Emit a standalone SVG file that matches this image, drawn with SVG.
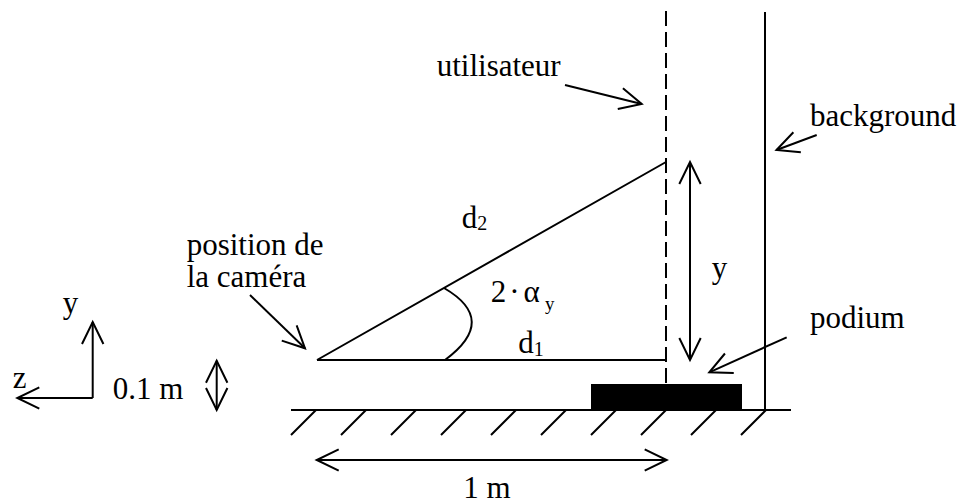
<svg xmlns="http://www.w3.org/2000/svg" width="963" height="502" viewBox="0 0 963 502">
<style>
text{font-family:"Liberation Serif","Times New Roman",serif;font-size:31px;fill:#000}
.ln{stroke:#000;stroke-width:2;fill:none}
.sub{font-size:19px}
</style>
<defs>
<marker id="ah" markerUnits="userSpaceOnUse" orient="auto-start-reverse" refX="0" refY="0" markerWidth="30" markerHeight="30" overflow="visible">
<path d="M-22,-10.7 L0,0 L-22,10.7" fill="none" stroke="#000" stroke-width="2"/>
</marker>
</defs>
<rect width="963" height="502" fill="#fff"/>

<g id="ground">
<line class="ln" x1="291" y1="410" x2="791" y2="410"/>
<path class="ln" d="M316,410 l-25,25 M366,410 l-25,25 M416,410 l-25,25 M466,410 l-25,25 M516,410 l-25,25 M566,410 l-25,25 M616,410 l-25,25 M666,410 l-25,25 M716,410 l-25,25 M766,410 l-25,25"/>
</g>
<g id="podium">
<rect x="591" y="384" width="151" height="26" fill="#000"/>
<text x="810" y="328">podium</text>
</g>
<g id="utilisateur">
<line class="ln" x1="666" y1="11" x2="666" y2="384" stroke-dasharray="15,6"/>
<text x="436.7" y="76">utilisateur</text>
</g>
<g id="background">
<line class="ln" x1="765" y1="12" x2="765" y2="410"/>
<text x="810" y="126">background</text>
</g>
<g id="camera">
<text x="186.7" y="255">position de</text>
<text x="186.7" y="286.7">la caméra</text>
</g>
<g id="triangle">
<path class="ln" d="M317,360 L666,360 M317,360 L666,162"/>
<path class="ln" d="M444,288 Q499,320 445,360"/>
<text x="461.7" y="228">d<tspan dy="2" font-size="20">2</tspan></text>
<text x="518.3" y="353">d<tspan dy="3" font-size="20">1</tspan></text>
<text x="490.7" y="301.7">2</text>
<text x="514.5" y="301.7" text-anchor="middle">·</text>
<text x="523.5" y="301.7">α</text>
<text class="sub" x="545" y="310">y</text>
<text x="711.7" y="278">y</text>
</g>
<g id="axes">
<text x="62.7" y="313">y</text>
<text x="12.7" y="388">z</text>
<text x="112.7" y="399">0.1 m</text>
<text x="463.3" y="497.5">1 m</text>
</g>
<g id="connectors">
<line class="ln" x1="92.7" y1="398" x2="92.7" y2="322" marker-end="url(#ah)"/>
<line class="ln" x1="92.7" y1="398" x2="17.3" y2="398" marker-end="url(#ah)"/>
<line class="ln" x1="216.7" y1="360.7" x2="216.7" y2="410" marker-start="url(#ah)" marker-end="url(#ah)"/>
<line class="ln" x1="316.7" y1="460" x2="666.7" y2="460" marker-start="url(#ah)" marker-end="url(#ah)"/>
<line class="ln" x1="690" y1="162" x2="690" y2="360" marker-start="url(#ah)" marker-end="url(#ah)"/>
<line class="ln" x1="250" y1="295" x2="305" y2="348.3" marker-end="url(#ah)"/>
<line class="ln" x1="565" y1="85" x2="641.7" y2="104" marker-end="url(#ah)"/>
<line class="ln" x1="816.7" y1="135" x2="776.5" y2="150" marker-end="url(#ah)"/>
<line class="ln" x1="786.7" y1="337.3" x2="709.3" y2="372.3" marker-end="url(#ah)"/>
</g>
</svg>
